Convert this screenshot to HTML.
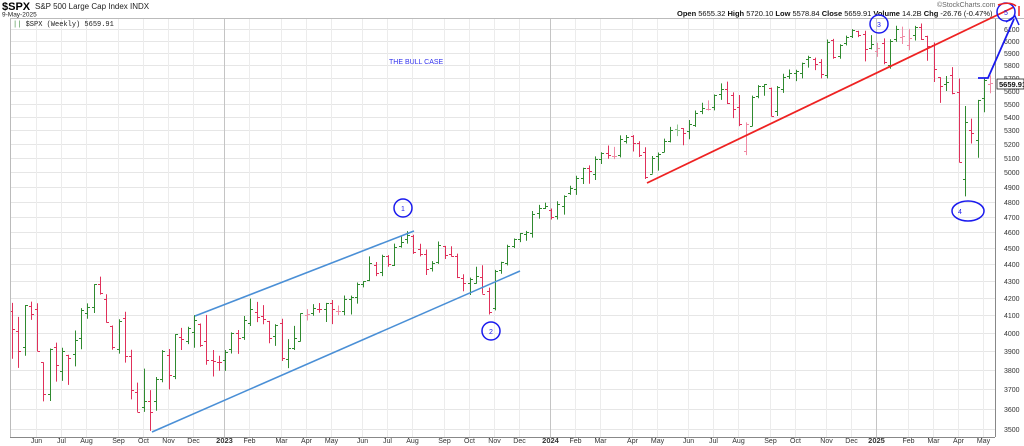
<!DOCTYPE html>
<html><head><meta charset="utf-8"><style>
html,body{margin:0;padding:0;background:#fff;}
svg{display:block;font-family:"Liberation Sans",sans-serif;}
</style></head><body>
<svg id="chart" width="1024" height="446" viewBox="0 0 1024 446" xmlns="http://www.w3.org/2000/svg">
<g id="grid"></g>
<g id="bars"></g>
<g id="axes"></g>
<g>
<text x="2" y="10" font-size="11" font-weight="bold">$SPX</text>
<text x="35" y="9" font-size="8" fill="#222">S&amp;P 500 Large Cap Index INDX</text>
<text x="2" y="16.5" font-size="6.5" fill="#222">9-May-2025</text>
<text x="677" y="16" font-size="7.5" fill="#111"><tspan font-weight="bold">Open</tspan> 5655.32 <tspan font-weight="bold">High</tspan> 5720.10 <tspan font-weight="bold">Low</tspan> 5578.84 <tspan font-weight="bold">Close</tspan> 5659.91 <tspan font-weight="bold">Volume</tspan> 14.2B <tspan font-weight="bold">Chg</tspan> -26.76 (-0.47%)</text>
<text x="937" y="7" font-size="7" fill="#666">©StockCharts.com</text>
<line x1="10" y1="18.5" x2="1024" y2="18.5" stroke="#bbb"/>
<text x="13" y="26" font-size="7" font-family="Liberation Mono, monospace" fill="#222"><tspan fill="#3a8a3a">||</tspan> $SPX (Weekly) 5659.91</text>
<text x="389" y="64" font-size="7" fill="#3333ee">THE BULL CASE</text>
</g>
<g id="annot">
<line x1="195" y1="316" x2="414" y2="231" stroke="#4a8fd6" stroke-width="1.6"/>
<line x1="152" y1="432" x2="520" y2="271" stroke="#4a8fd6" stroke-width="1.6"/>
<line x1="647" y1="183" x2="1014" y2="7" stroke="#ee2222" stroke-width="1.8"/>
<circle cx="403" cy="208" r="9" fill="none" stroke="#1a1aee" stroke-width="1.5"/>
<text x="403" y="211" font-size="7" text-anchor="middle" fill="#1a1aee">1</text>
<circle cx="491" cy="331" r="9" fill="none" stroke="#1a1aee" stroke-width="1.5"/>
<text x="491" y="334" font-size="7" text-anchor="middle" fill="#1a1aee">2</text>
<circle cx="879" cy="24" r="9" fill="none" stroke="#1a1aee" stroke-width="1.5"/>
<text x="879" y="27" font-size="7" text-anchor="middle" fill="#1a1aee">3</text>
<ellipse cx="968" cy="211" rx="16" ry="10" fill="none" stroke="#1a1aee" stroke-width="1.5"/>
<text x="960" y="214" font-size="7" text-anchor="middle" fill="#1a1aee">4</text>
<circle cx="1006" cy="12" r="9" fill="none" stroke="#1a1aee" stroke-width="1.5"/>
<text x="1006" y="15" font-size="7" text-anchor="middle" fill="#1a1aee">5</text>
<path d="M998 5 Q1010 1 1016 6" fill="none" stroke="#ee2222" stroke-width="1.5"/>
<line x1="1019" y1="6" x2="1019" y2="16" stroke="#ee2222" stroke-width="1.5"/>
<path d="M978 78 L988 78 L1014 19" fill="none" stroke="#1a1aee" stroke-width="1.8"/>
<path d="M1006 22 L1015 16 L1019 25" fill="none" stroke="#1a1aee" stroke-width="1.5"/>
<rect x="997" y="79" width="27" height="10" fill="#fff" stroke="#222" stroke-width="0.8"/>
<text x="999" y="87" font-size="7.5" font-weight="bold" fill="#111">5659.91</text>
</g>
</svg>
<script>
const opens=[4123,4013,3920,4150,4134,3839,3675,3920,3792,3880,3883,3972,4112,4145,4282,4195,4041,3909,4084,3871,3686,3609,3640,3638,3754,3880,3767,3977,3956,4005,4052,3955,3853,3843,
3853,3911,3999,3979,4055,4119,4096,4067,3982,4055,3855,3917,3953,4102,4110,4135,4132,4167,4124,4126,4190,4205,4282,4305,4396,4354,4451,4398,4513,4555,4578,4492,4464,4380,4415,4510,4463,4453,4316,4284,4289,4321,4238,4140,4365,4406,4511,4554,4589,4593,4725,4758,
4745,4703,4772,4856,4886,4957,5026,4989,5093,5132,5111,5123,5220,5258,5204,5145,4990,5115,5142,5221,5311,5316,5297,5341,5441,5459,5471,5572,5614,5565,5476,5151,5334,5557,5637,5623,5442,5615,5712,5737,5737,5855,5853,5826,5724,6009,5874,5982,6040,6083,6058,5942,
5920,5982,5801,6014,6034,5969,6046,6115,6040,5969,5705,5652,5719,5589,4953,5300,5232,5541,5655];
const highs=[4170,4090,4158,4177,4168,3839,3914,3946,3918,3880,4013,4140,4167,4280,4325,4220,4041,4076,4119,3907,3733,3806,3694,3762,3905,3911,3993,4028,4034,4100,4052,4101,3906,3875,
3906,4003,4016,4095,4195,4176,4157,4067,4048,4079,3965,4039,4110,4134,4163,4169,4170,4187,4155,4213,4212,4290,4298,4448,4414,4458,4456,4528,4578,4607,4584,4527,4491,4419,4541,4514,4511,4465,4339,4319,4385,4394,4259,4366,4415,4521,4560,4595,4609,4738,4778,4793,
4754,4802,4842,4907,4975,5031,5048,5111,5140,5189,5179,5262,5265,5264,5220,5176,5114,5139,5239,5325,5342,5316,5376,5447,5506,5524,5570,5656,5670,5586,5566,5358,5561,5643,5651,5623,5636,5733,5767,5765,5822,5878,5862,5850,6012,6017,5972,6044,6099,6085,6085,6049,
5985,6021,6014,6128,6120,6101,6127,6147,6043,5987,5705,5715,5786,5695,5481,5386,5528,5700,5720];
const lows=[3859,3810,3875,4073,3900,3637,3639,3738,3742,3721,3818,3910,4079,4112,4218,4057,3907,3886,3838,3647,3584,3584,3491,3590,3735,3698,3751,3906,3938,3918,3923,3827,3765,3795,
3794,3887,3885,3961,4038,4060,4048,3943,3928,3847,3809,3906,3952,4069,4096,4113,4061,4049,4099,4099,4103,4166,4261,4298,4328,4328,4385,4389,4503,4528,4464,4448,4335,4356,4402,4432,4447,4316,4238,4216,4283,4223,4103,4127,4342,4393,4500,4537,4546,4566,4688,4751,
4682,4682,4714,4845,4845,4919,4920,4946,5057,5094,5092,5104,5203,5146,5107,4953,4990,5011,5141,5211,5257,5191,5234,5325,5420,5447,5448,5528,5497,5390,5330,5120,5330,5541,5560,5403,5406,5582,5691,5674,5696,5782,5762,5696,5696,5853,5853,5963,6024,6032,5832,5930,
5869,5809,5773,5993,5974,5923,6004,6008,5837,5667,5505,5597,5572,5069,4835,5203,5101,5434,5579];
const closes=[4023,3901,4158,4108,3901,3675,3912,3825,3899,3863,3962,4130,4145,4280,4228,4058,3924,4067,3873,3693,3586,3640,3583,3752,3901,3771,3993,3965,4026,4072,3934,3852,3845,3840,
3895,3999,3973,4070,4136,4090,4079,3970,4046,3862,3917,3971,4109,4105,4138,4133,4169,4136,4124,4192,4205,4282,4299,4410,4348,4450,4399,4505,4536,4582,4478,4464,4370,4406,4516,4457,4450,4320,4288,4308,4327,4224,4117,4358,4415,4514,4559,4595,4604,4719,4755,4770,
4697,4784,4840,4891,4959,5027,5006,5089,5137,5124,5117,5234,5254,5204,5123,4967,5100,5128,5223,5303,5305,5278,5347,5432,5465,5460,5567,5615,5505,5459,5346,5344,5554,5634,5648,5408,5626,5703,5738,5751,5815,5864,5808,5729,5995,5871,5969,6032,6090,6051,5931,5971,
5942,5827,5997,6101,6041,6026,6115,6013,5955,5770,5639,5667,5581,5074,5363,5283,5525,5686,5660];
const priceTicks=[3500,3600,3700,3800,3900,4000,4100,4200,4300,4400,4500,4600,4700,4800,4900,5000,5100,5200,5300,5400,5500,5600,5700,5800,5900,6000,6100];
const monthLabels=["Jun","Jul","Aug","Sep","Oct","Nov","Dec","2023","Feb","Mar","Apr","May","Jun","Jul","Aug","Sep","Oct","Nov","Dec","2024","Feb","Mar","Apr","May","Jun","Jul","Aug","Sep","Oct","Nov","Dec","2025","Feb","Mar","Apr","May"];
const monthBarIndex=[4,8,12,17,21,25,29,34,38,43,47,51,56,60,64,69,73,77,81,86,90,94,99,103,108,112,116,121,125,130,134,138,143,147,151,155];

const NS="http://www.w3.org/2000/svg";
const X0=12,STEP=6.27,PLOT_L=10,PLOT_R=995,PLOT_T=19,PLOT_B=437;
function xScale(i){return X0+i*STEP;}
function yScale(p){return 429-720*Math.log(p/3500);}
function mk(tag,attrs,parent){const e=document.createElementNS(NS,tag);for(const k in attrs)e.setAttribute(k,attrs[k]);parent.appendChild(e);return e;}
const grid=document.getElementById('grid'),bars=document.getElementById('bars'),axes=document.getElementById('axes');

priceTicks.forEach(p=>{
  const y=Math.round(yScale(p))+0.5;
  const g=mk('line',{x1:PLOT_L,y1:y,x2:PLOT_R,y2:y,stroke:'#e6e6e6','stroke-width':1},grid);
  
  
  const t=mk('text',{x:1004,y:y+2.5,'font-size':7,fill:'#333'},axes);
  t.textContent=p;
  
  
});
monthLabels.forEach((m,k)=>{
  const x=Math.round(xScale(monthBarIndex[k])-1)+0.5;
  const yr=/^\d+$/.test(m);
  const g=mk('line',{x1:x,y1:PLOT_T,x2:x,y2:PLOT_B,stroke:yr?'#c4c4c4':'#ececec','stroke-width':1},grid);
  
  
  const t=mk('text',{x:x,y:443,'font-size':yr?7.5:7,'font-weight':yr?'bold':'normal','text-anchor':'middle',fill:'#333'},axes);
  t.textContent=m;
  
  
});
const ax=mk('line',{x1:PLOT_R+0.5,y1:PLOT_T,x2:PLOT_R+0.5,y2:PLOT_B,stroke:'#888'},axes);


const bx=mk('line',{x1:PLOT_L,y1:PLOT_B+0.5,x2:PLOT_R,y2:PLOT_B+0.5,stroke:'#888'},axes);


const lx=mk('line',{x1:PLOT_L+0.5,y1:PLOT_T,x2:PLOT_L+0.5,y2:PLOT_B,stroke:'#bbb'},axes);



closes.forEach((c,i)=>{
  const o=opens[i],h=highs[i],l=lows[i];
  const prev=i>0?closes[i-1]:o;
  let col;
  if(c>=prev) col=(c>=o)?'#2f8a2f':'#8fc48f'; else col=(c<o)?'#e0305a':'#f08aa4';
  const x=Math.round(xScale(i))+0.5;
  const g=mk('g',{stroke:col,'stroke-width':1},bars);
  
  
  mk('line',{x1:x,y1:yScale(h),x2:x,y2:yScale(l)},g);
  mk('line',{x1:x-2.5,y1:Math.round(yScale(o))+0.5,x2:x,y2:Math.round(yScale(o))+0.5},g);
  mk('line',{x1:x,y1:Math.round(yScale(c))+0.5,x2:x+2.5,y2:Math.round(yScale(c))+0.5},g);
});
</script>
</body></html>
